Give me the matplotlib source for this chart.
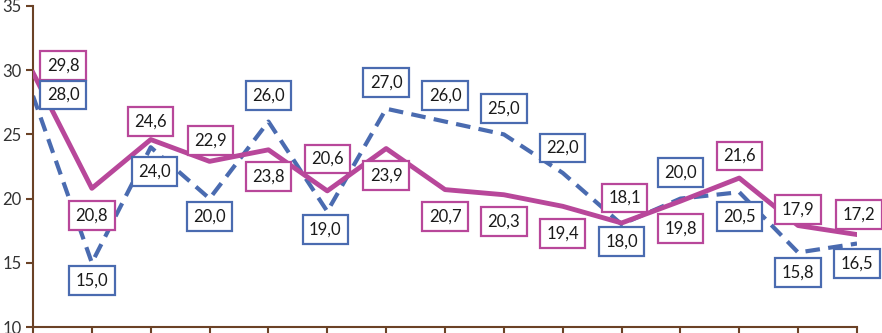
import numpy as np
import matplotlib.pyplot as plt

# values
pink_vals = [29.8, 20.8, 24.6, 22.9, 23.8, 20.6, 23.9, 20.7, 20.3, 19.4, 18.1, 19.8, 21.6, 17.9, 17.2]
blue_vals = [28.0, 15.0, 24.0, 20.0, 26.0, 19.0, 27.0, 26.0, 25.0, 22.0, 18.0, 20.0, 20.5, 15.8, 16.5]

# label offsets in pixels (dx, dy), y up
pink_off = [(30, 7), (0, -27), (0, 18), (1, 21), (0, -27), (0, 32), (0, -27), (0, -27),
            (0, -27), (0, -27), (3, 25), (0, -27), (0, 22), (0, 16), (2, 20)]
blue_off = [(30, 1), (0, -18), (4, -24), (0, -18), (0, 26), (-2, -18), (0, 26), (0, 26),
            (0, 26), (0, 25), (0, -17), (0, 26), (0, -24), (0, -20), (0, -20)]

pink = '#b8479a'
blue = '#4a6bb0'
brown = '#6b4226'

x = np.arange(len(pink_vals))

fig = plt.figure(figsize=(8.82, 3.33), dpi=100)
ax = fig.add_axes([33 / 882, 6 / 333, 824 / 882, 321 / 333])

ax.plot(x, blue_vals, color=blue, lw=3, dashes=(3.5, 2), zorder=2)
ax.plot(x, pink_vals, color=pink, lw=3.5, zorder=3)

def fmt(v):
    return ('%.1f' % v).replace('.', ',')

for vals, offs, col in [(pink_vals, pink_off, pink), (blue_vals, blue_off, blue)]:
    for i in range(len(vals)):
        ax.annotate(fmt(vals[i]), xy=(i, vals[i]), xytext=offs[i], textcoords='offset pixels',
                    ha='center', va='center', fontsize=12, family='Lato', color='#1a1a1a',
                    bbox=dict(boxstyle='square,pad=0.38', fc='white', ec=col, lw=1.6),
                    zorder=5, annotation_clip=False)

ax.set_xlim(0, 14)
ax.set_ylim(10, 35)
ax.set_yticks([10, 15, 20, 25, 30, 35])
ax.set_xticks(x)
ax.set_xticklabels([])
for s in ['top', 'right']:
    ax.spines[s].set_visible(False)
for s in ['left', 'bottom']:
    ax.spines[s].set_color(brown)
    ax.spines[s].set_linewidth(1.5)
ax.tick_params(axis='y', colors=brown, length=5, width=1.5, labelcolor='#333333', labelsize=12, pad=3)
ax.tick_params(axis='x', colors=brown, length=6, width=1.5)
for t in ax.get_yticklabels():
    t.set_family('Lato')

fig.savefig('out.png', dpi=100)
